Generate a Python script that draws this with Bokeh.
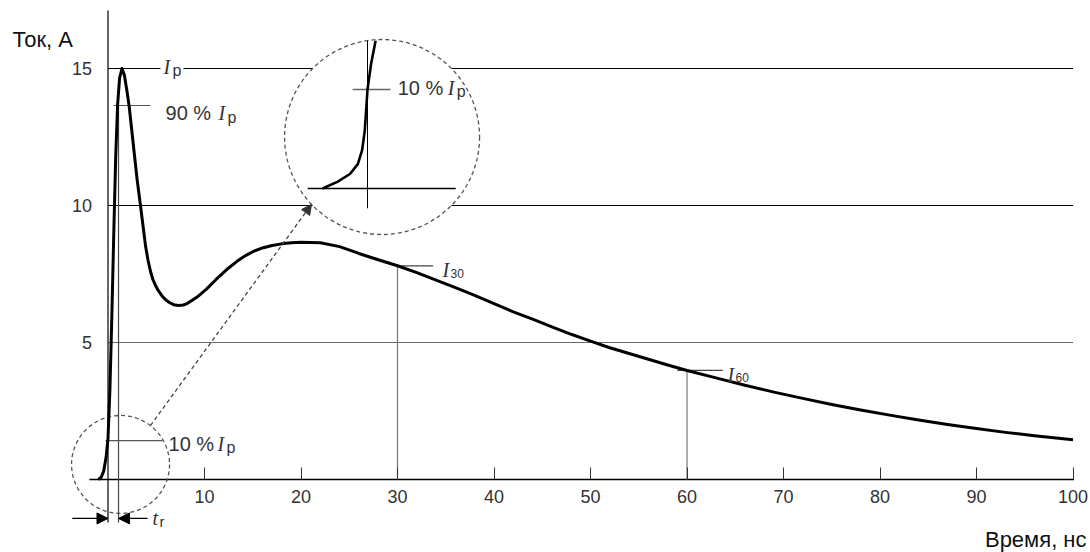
from bokeh.plotting import figure
from bokeh.models import Range1d, LinearAxis, FixedTicker, Arrow, NormalHead
from bokeh.core.properties import value
from bokeh.embed import file_html
from bokeh.resources import INLINE

# ---- data ----
time_ns = [-1.0, -0.7, -0.45, -0.2, 0.0, 0.2, 0.4, 0.6, 0.8, 1.0, 1.2, 1.45, 1.7, 2.0, 2.2,
           2.6, 3.0, 3.4, 3.9, 4.15, 4.4, 4.65, 4.9, 5.2, 5.6, 6.0, 6.4, 6.8, 7.3, 7.8, 8.2,
           9.2, 10.2, 11.2, 12.5, 13.4, 14.3, 15.1, 16.0, 17.0, 18.0, 19.0, 20.0, 22.0, 24.0,
           26.0, 28.0, 30.0, 32.0, 34.0, 36.0, 38.0, 40.0, 42.0, 44.0, 46.0, 48.0, 50.0, 52.0,
           54.0, 56.0, 58.0, 60.0, 63.0, 66.0, 69.0, 72.0, 75.0, 78.0, 81.0, 84.0, 87.0, 90.0,
           93.0, 96.0, 100.0]
current_a = [0.0, 0.08, 0.3, 0.8, 1.5, 3.3, 6.0, 9.0, 11.8, 13.7, 14.65, 15.0, 14.75, 14.1, 13.6,
             12.3, 11.0, 9.9, 8.5, 8.0, 7.6, 7.3, 7.1, 6.9, 6.7, 6.55, 6.45, 6.38, 6.35, 6.37, 6.42,
             6.65, 6.95, 7.3, 7.72, 7.97, 8.18, 8.33, 8.45, 8.54, 8.6, 8.64, 8.66, 8.64, 8.5,
             8.25, 8.02, 7.8, 7.55, 7.28, 7.0, 6.72, 6.42, 6.12, 5.85, 5.57, 5.3, 5.05, 4.81,
             4.6, 4.39, 4.18, 3.98, 3.71, 3.44, 3.19, 2.96, 2.74, 2.54, 2.35, 2.17, 2.01, 1.86,
             1.72, 1.6, 1.45]

# magnified inset of the rising edge (own inset scale)
inset_time_ns = [-1.0, -0.67, -0.39, -0.215, -0.12, -0.06, 0.0, 0.08, 0.18]
inset_current_a = [0.0, 0.10, 0.22, 0.37, 0.58, 0.88, 1.5, 1.89, 2.24]

x_tick_values = [10, 20, 30, 40, 50, 60, 70, 80, 90, 100]
y_tick_values = [5, 10, 15]
grid_levels = [15, 10, 5]

peak_current = 15.0
level_90 = 13.65
level_10 = 1.42
i30_value = 7.8
i60_value = 3.98
rise_end_ns = 1.09

SANS = value("Liberation Sans")
SERIF = value("Liberation Serif")

W, H = 1090, 552
X0, XS = 107.5, 9.65      # screen x of t=0, px per ns
Y0, YS = 479.0, 27.4      # screen y of I=0, px per A
IX0, IXS = 367.0, 45.0    # inset
IY0, IYS = 188.0, 66.0

p = figure(width=W, height=H,
           x_range=Range1d((0 - X0) / XS, (W - X0) / XS),
           y_range=Range1d((Y0 - H) / YS, Y0 / YS),
           x_axis_type=None, y_axis_type=None,
           toolbar_location=None, output_backend="svg", min_border=0)
p.outline_line_color = None
p.background_fill_color = "white"
p.border_fill_color = "white"

p.extra_x_ranges = {"ix": Range1d((0 - IX0) / IXS, (W - IX0) / IXS)}
p.extra_y_ranges = {"iy": Range1d((IY0 - H) / IYS, IY0 / IYS)}

# axes (ticks and labels)
xax = LinearAxis(ticker=FixedTicker(ticks=x_tick_values), fixed_location=0,
                 axis_line_color=None, major_tick_in=12, major_tick_out=0,
                 major_tick_line_color="#333", minor_tick_line_color=None,
                 major_label_standoff=10, major_label_text_font="Liberation Sans",
                 major_label_text_font_size="18px", major_label_text_color="#333")
p.add_layout(xax, "below")
yax = LinearAxis(ticker=FixedTicker(ticks=y_tick_values), fixed_location=0,
                 axis_line_color=None, major_tick_in=0, major_tick_out=0,
                 major_tick_line_color=None, minor_tick_line_color=None,
                 major_label_standoff=16, major_label_text_font="Liberation Sans",
                 major_label_text_font_size="18px", major_label_text_color="#333")
p.add_layout(yax, "left")

# grid lines
p.segment(x0=[0, 7.82], y0=[grid_levels[0]] * 2, x1=[5.44, 100], y1=[grid_levels[0]] * 2,
          line_color="black", line_width=1.2)
p.segment(x0=[0], y0=[grid_levels[1]], x1=[100], y1=[grid_levels[1]],
          line_color="black", line_width=1.2)
p.segment(x0=[0], y0=[grid_levels[2]], x1=[100], y1=[grid_levels[2]],
          line_color="#666", line_width=1.2)

# axis lines
p.segment(x0=[-1.92], y0=[0], x1=[100.1], y1=[0], line_color="black", line_width=1.5)
p.segment(x0=[0], y0=[-1.57], x1=[0], y1=[17.12], line_color="black", line_width=1.2)
p.segment(x0=[rise_end_ns], y0=[-1.57], x1=[rise_end_ns], y1=[level_90],
          line_color="#444", line_width=1.2)

# I30 / I60 markers
p.segment(x0=[30, 60], y0=[0, 0], x1=[30, 60], y1=[i30_value, i60_value],
          line_color="#777", line_width=1.2)
p.segment(x0=[30, 59.0], y0=[i30_value, i60_value], x1=[33.7, 63.7], y1=[i30_value, i60_value],
          line_color="#444", line_width=1.2)
# 90% / 10% marks
p.segment(x0=[0.57, -0.26], y0=[level_90, level_10], x1=[4.4, 5.65], y1=[level_90, level_10],
          line_color="#555", line_width=1.2)

# small dashed circle
p.scatter(x=[1.3], y=[0.55], size=98, marker="circle", fill_color=None,
          line_color="#555", line_dash="4 3", line_width=1.3)

# main curve
p.line(time_ns, current_a, line_color="black", line_width=3, line_join="round")

# dashed arrow to the inset
p.add_layout(Arrow(end=NormalHead(size=10, fill_color="#333", line_color="#333"),
                   x_start=4.40, y_start=1.97, x_end=21.09, y_end=10.04,
                   line_color="#444", line_width=1.3, line_dash="4 3"))

# big inset circle (white fill)
p.scatter(x=[28.4], y=[12.5], size=195, marker="circle", fill_color="white",
          line_color="#555", line_dash="4 3", line_width=1.3)

# inset contents
p.segment(x0=[-1.33], y0=[0], x1=[1.96], y1=[0], line_color="black", line_width=1.5,
          x_range_name="ix", y_range_name="iy")
p.segment(x0=[0], y0=[-0.30], x1=[0], y1=[2.24], line_color="black", line_width=1.0,
          x_range_name="ix", y_range_name="iy")
p.segment(x0=[-0.33], y0=[1.5], x1=[0.51], y1=[1.5], line_color="#666", line_width=1.3,
          x_range_name="ix", y_range_name="iy")
p.line(inset_time_ns, inset_current_a, line_color="black", line_width=2.6, line_join="round",
       x_range_name="ix", y_range_name="iy")

# tr arrows
for xs, xe in [(-3.7, 0.0), (4.1, rise_end_ns)]:
    p.add_layout(Arrow(end=NormalHead(size=11, fill_color="black", line_color="black"),
                       x_start=xs, y_start=-1.42, x_end=xe, y_end=-1.42,
                       line_color="black", line_width=1.2))

# ---- texts ----
def txt(x, y, s, font=SANS, size="20px", style="normal", align="left",
        baseline="middle", color="#333", xo=0, yo=0, **kw):
    p.text(x=[x], y=[y], text=[s], text_font=font, text_font_size=size,
           text_font_style=style, text_align=align, text_baseline=baseline,
           text_color=color, x_offset=xo, y_offset=yo, **kw)

txt(-9.9, 16.06, "Ток, А", size="22px", color="#111")
txt(101.4, -2.2, "Время, нс", size="22px", align="right", color="#111")

# Ip on the peak line
txt(5.75, peak_current, "I", font=SERIF, size="20px", style="italic", yo=-2)
txt(5.75, peak_current, "p", size="16px", xo=9, yo=2)
# 90 % Ip
txt(5.96, 13.36, "90 %")
txt(5.96, 13.36, "I", font=SERIF, size="20px", style="italic", xo=53)
txt(5.96, 13.36, "p", size="16px", xo=62, yo=4)
# 10 % Ip (bottom)
txt(6.27, 1.31, "10 %")
txt(6.27, 1.31, "I", font=SERIF, size="20px", style="italic", xo=49)
txt(6.27, 1.31, "p", size="16px", xo=58, yo=4)
# inset 10 % Ip
txt(0.67, 1.53, "10 %", x_range_name="ix", y_range_name="iy")
txt(0.67, 1.53, "I", font=SERIF, size="20px", style="italic", xo=50,
    x_range_name="ix", y_range_name="iy")
txt(0.67, 1.53, "p", size="16px", xo=59, yo=4, x_range_name="ix", y_range_name="iy")
# I30, I60
txt(34.66, 7.63, "I", font=SERIF, size="20px", style="italic")
txt(34.66, 7.63, "30", size="12px", xo=8, yo=3)
txt(64.2, 3.83, "I", font=SERIF, size="20px", style="italic")
txt(64.2, 3.83, "60", size="12px", xo=8, yo=3)
# tr
txt(4.61, -1.42, "t", font=SERIF, size="20px", style="italic")
txt(4.61, -1.42, "r", size="15px", xo=7, yo=3)

open("out.html", "w").write(file_html(p, INLINE))
